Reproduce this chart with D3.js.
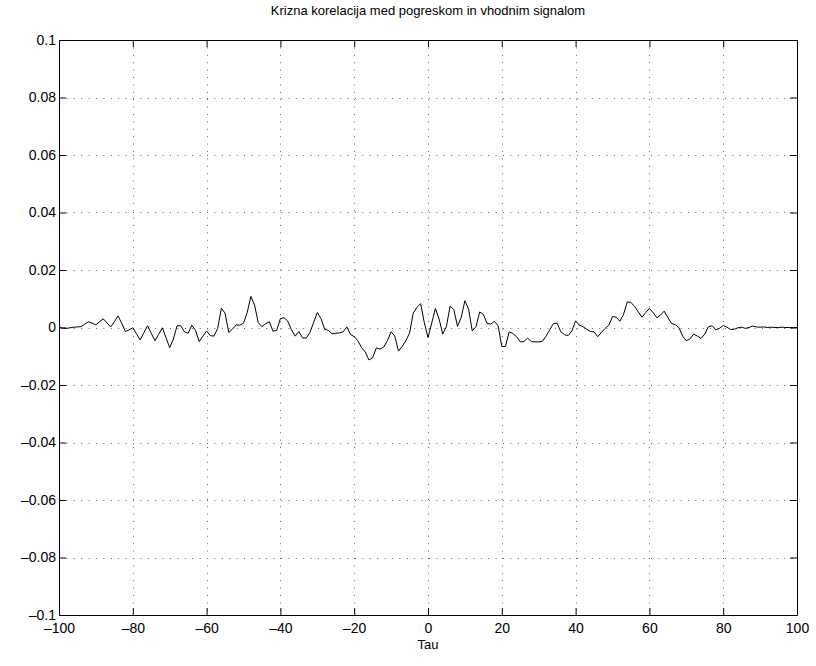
<!DOCTYPE html>
<html>
<head>
<meta charset="utf-8">
<script src="https://cdn.jsdelivr.net/npm/d3@7"></script>
<style>
    body { margin: 0; background: #fff; }
    svg { font-family: "Liberation Sans", Arial, sans-serif; }
</style>
</head>
<body>
<svg id="canvas" width="816" height="666"></svg>
<script>
const title = "Krizna korelacija med pogreskom in vhodnim signalom";
const xLabel = "Tau";

const xTicks = [-100, -80, -60, -40, -20, 0, 20, 40, 60, 80, 100];
const yTicks = [-0.1, -0.08, -0.06, -0.04, -0.02, 0, 0.02, 0.04, 0.06, 0.08, 0.1];

const lagStart = -100;
// cross-correlation values, one per lag from -100 to 100
const corrValues = [
    0.0000, -0.0002, -0.0003, -0.0001, 0.0001, 0.0002, 0.0003, 0.0012, 0.0020, 0.0015,
    0.0009, 0.0020, 0.0030, 0.0016, 0.0002, 0.0020, 0.0040, 0.0015, -0.0014, -0.0008,
    -0.0001, -0.0022, -0.0043, -0.0018, 0.0006, -0.0020, -0.0046, -0.0024, -0.0001, -0.0035,
    -0.0070, -0.0040, 0.0006, 0.0006,
    -0.0015, -0.0020, 0.0008, -0.0010, -0.0049, -0.0030, -0.0012, -0.0028, -0.0030, -0.0003,
    0.0067, 0.0050, -0.0017, -0.0006, 0.0009, 0.0008, 0.0015, 0.0052, 0.0108, 0.0078,
    0.0017, 0.0003, 0.0013, 0.0020, -0.0013, -0.0010, 0.0031, 0.0034, 0.0022, -0.0008,
    -0.0030, -0.0014, -0.0036, -0.0037,
    -0.0017, 0.0017, 0.0052, 0.0031, -0.0006, -0.0010, -0.0022, -0.0020, -0.0019, -0.0015,
    0.0002, -0.0024, -0.0032, -0.0046, -0.0070, -0.0085, -0.0113, -0.0105, -0.0071, -0.0075,
    -0.0068, -0.0046, -0.0015, -0.0030, -0.0082, -0.0066, -0.0046, -0.0020, 0.0050, 0.0070,
    0.0083, 0.0017, -0.0035,
    0.0015, 0.0066, 0.0030, -0.0023, 0.0004, 0.0075, 0.0062, 0.0004, 0.0035, 0.0093,
    0.0064, -0.0012, 0.0003, 0.0054, 0.0046, 0.0014, 0.0012, 0.0021, 0.0006, -0.0066,
    -0.0066, -0.0015, -0.0021, -0.0032, -0.0050, -0.0049, -0.0037, -0.0049, -0.0050, -0.0050,
    -0.0048, -0.0030, -0.0008, 0.0014,
    0.0015, -0.0015, -0.0025, -0.0028, -0.0012, 0.0023, 0.0008, 0.0003, -0.0006, -0.0014,
    -0.0015, -0.0032, -0.0017, -0.0003, 0.0008, 0.0038, 0.0036, 0.0022, 0.0046, 0.0089,
    0.0087, 0.0073, 0.0054, 0.0036, 0.0052, 0.0066, 0.0052, 0.0034, 0.0043, 0.0057,
    0.0035, 0.0014, 0.0010, 0.0000,
    -0.0030, -0.0046, -0.0040, -0.0023, -0.0030, -0.0038, -0.0023, 0.0003, 0.0006, -0.0008,
    -0.0003, 0.0007, 0.0001, -0.0007, -0.0006, -0.0001, 0.0001, -0.0003, 0.0000, 0.0005,
    0.0002, 0.0001, 0.0002, 0.0000, 0.0001, 0.0000, 0.0000, 0.0001, 0.0000, 0.0000,
    0.0000, 0.0000
];

const canvas = d3.select("#canvas");

const plotLeft = 59, plotRight = 797, plotTop = 40, plotBottom = 615;
const tickLen = 7;

const xScale = d3.scaleLinear().domain([-100, 100]).range([plotLeft, plotRight]);
const yScale = d3.scaleLinear().domain([-0.1, 0.1]).range([plotBottom, plotTop]);

const fmt = (v) => {
    let s = v === 0 ? "0" : String(+v.toFixed(2));
    return s.replace("-", "\u2013");
};

// grid
const grid = canvas.append("g")
    .attr("stroke", "#666")
    .attr("stroke-width", 1)
    .attr("stroke-dasharray", "1,6.4");

grid.selectAll(".vgrid")
    .data(xTicks.slice(1, -1))
    .enter()
    .append("line")
    .attr("x1", (d) => Math.round(xScale(d)) + 0.5)
    .attr("x2", (d) => Math.round(xScale(d)) + 0.5)
    .attr("y1", plotTop)
    .attr("y2", plotBottom);

grid.selectAll(".hgrid")
    .data(yTicks.slice(1, -1))
    .enter()
    .append("line")
    .attr("y1", (d) => Math.round(yScale(d)) + 0.5)
    .attr("y2", (d) => Math.round(yScale(d)) + 0.5)
    .attr("x1", plotLeft)
    .attr("x2", plotRight);

// axes with inward ticks
const xAxisBottom = d3.axisBottom(xScale).tickValues(xTicks).tickSizeInner(-tickLen).tickSizeOuter(0).tickPadding(8).tickFormat(fmt);
const xAxisTop = d3.axisTop(xScale).tickValues(xTicks).tickSizeInner(-tickLen).tickSizeOuter(0).tickFormat("");
const yAxisLeft = d3.axisLeft(yScale).tickValues(yTicks).tickSizeInner(-tickLen).tickSizeOuter(0).tickPadding(3).tickFormat(fmt);
const yAxisRight = d3.axisRight(yScale).tickValues(yTicks).tickSizeInner(-tickLen).tickSizeOuter(0).tickFormat("");

const styleAxis = (g) => {
    g.select(".domain").attr("stroke", "#000");
    g.selectAll(".tick line").attr("stroke", "#000");
    g.selectAll(".tick text")
        .attr("fill", "#000")
        .style("font-size", "14px")
        .style("font-family", "\"Liberation Sans\", Arial, sans-serif");
};

canvas.append("g").attr("transform", `translate(0,${plotBottom})`).call(xAxisBottom).call(styleAxis);
canvas.append("g").attr("transform", `translate(0,${plotTop})`).call(xAxisTop).call(styleAxis);
canvas.append("g").attr("transform", `translate(${plotLeft},0)`).call(yAxisLeft).call(styleAxis);
canvas.append("g").attr("transform", `translate(${plotRight},0)`).call(yAxisRight).call(styleAxis);

// correlation line
const line = d3.line()
    .x((d, i) => xScale(lagStart + i))
    .y((d) => yScale(d));

canvas.append("path")
    .datum(corrValues)
    .attr("fill", "none")
    .attr("stroke", "#000")
    .attr("stroke-width", 1)
    .attr("d", line);

// title and label
canvas.append("text")
    .attr("x", (plotLeft + plotRight) / 2)
    .attr("y", 15)
    .attr("text-anchor", "middle")
    .style("font-size", "13px")
    .text(title);

canvas.append("text")
    .attr("x", (plotLeft + plotRight) / 2)
    .attr("y", 649)
    .attr("text-anchor", "middle")
    .style("font-size", "13px")
    .text(xLabel);
</script>
</body>
</html>
